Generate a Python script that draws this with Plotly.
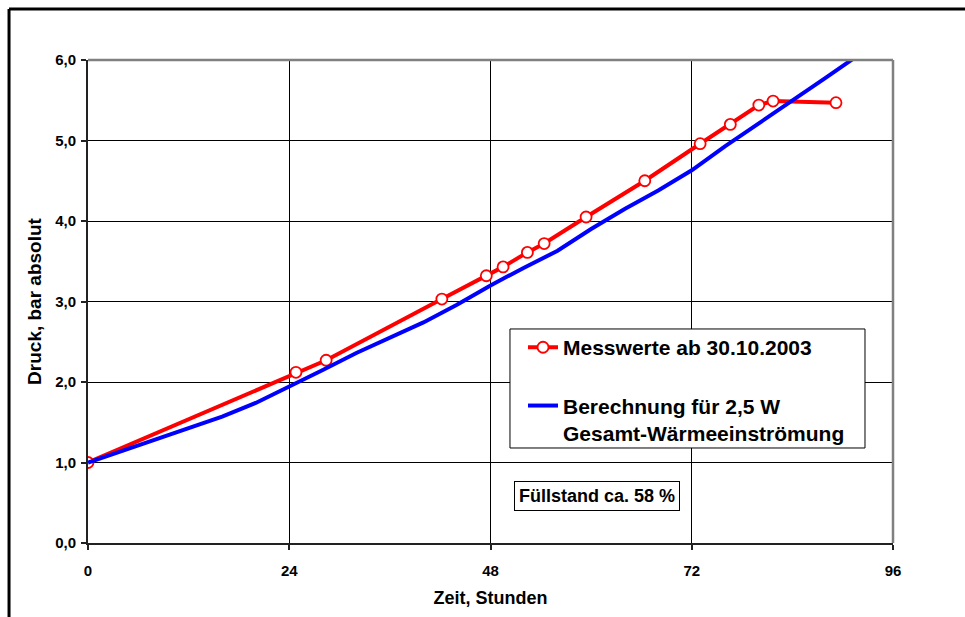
import plotly.graph_objects as go

# Measured values (Messwerte)
mess_t = [0, 24.8, 28.4, 42.2, 47.5, 49.5, 52.4, 54.4, 59.4, 66.4, 73.0, 76.6, 80.0, 81.7, 89.2]
mess_p = [1.00, 2.12, 2.27, 3.03, 3.32, 3.43, 3.61, 3.72, 4.05, 4.50, 4.96, 5.20, 5.44, 5.49, 5.47]

# Calculation for 2.5 W heat inflow
calc_t = [0, 4, 8, 12, 16, 20, 24, 28, 32, 36, 40, 44, 48, 52, 56, 60, 64, 68, 72, 76, 80, 84, 88, 92]
calc_p = [1.00, 1.14, 1.29, 1.42, 1.57, 1.74, 1.94, 2.15, 2.36, 2.55, 2.74, 2.96, 3.20, 3.42, 3.63,
          3.90, 4.15, 4.38, 4.63, 4.93, 5.21, 5.49, 5.78, 6.07]

x_ticks = [0, 24, 48, 72, 96]
y_ticks = [0, 1, 2, 3, 4, 5, 6]

FONT = "Arial, Liberation Sans, sans-serif"

fig = go.Figure()
fig.add_trace(go.Scatter(
    x=mess_t, y=mess_p, mode="lines+markers",
    name="<b>Messwerte ab 30.10.2003</b>",
    line=dict(color="#ff0000", width=4),
    marker=dict(symbol="circle", size=11, color="white", line=dict(color="#ff0000", width=1.8)),
    legendgroup="a",
))
fig.add_trace(go.Scatter(
    x=calc_t, y=calc_p, mode="lines",
    name="<b>Berechnung für 2,5 W<br>Gesamt-Wärmeeinströmung</b>",
    line=dict(color="#0000ff", width=4),
    legendgroup="b",
))

axis_common = dict(
    showgrid=True, gridcolor="#000000", gridwidth=1,
    showline=True, linecolor="#222222", linewidth=2,
    ticks="outside", ticklen=5, tickcolor="#222222", tickwidth=1.5,
    zeroline=False,
    tickfont=dict(family=FONT, size=15, color="black", weight="bold"),
)

fig.update_layout(
    width=965, height=617,
    margin=dict(l=88, r=72, t=60, b=74),
    paper_bgcolor="white", plot_bgcolor="white",
    separators=",.",
    font=dict(family=FONT, color="black"),
    xaxis=dict(
        range=[0, 96], tickvals=x_ticks, ticktext=[str(v) for v in x_ticks],
        ticklabelstandoff=8,
        title=dict(text="<b>Zeit, Stunden</b>", font=dict(family=FONT, size=18), standoff=13),
        **axis_common,
    ),
    yaxis=dict(
        range=[0, 6], tickvals=y_ticks, tickformat=".1f",
        ticklabelstandoff=2,
        title=dict(text="<b>Druck, bar absolut</b>", font=dict(family=FONT, size=19), standoff=8),
        **axis_common,
    ),
    showlegend=True,
    legend=dict(
        x=0.5404, y=0.447, xanchor="left", yanchor="top",
        bgcolor="rgba(0,0,0,0)", borderwidth=0,
        font=dict(family=FONT, size=21, color="black"),
        tracegroupgap=28, traceorder="grouped", valign="top",
        itemwidth=30,
    ),
    annotations=[dict(
        xref="paper", yref="paper", x=0.6323, y=0.0663,
        text="<b>Füllstand ca. 58 %</b>", showarrow=False,
        font=dict(family=FONT, size=18, color="black"),
        bordercolor="black", borderwidth=1, borderpad=4, bgcolor="white",
    )],
    shapes=[
        # gray plot frame (top and right)
        dict(type="line", xref="paper", yref="paper", x0=0, x1=1, y0=1, y1=1,
             line=dict(color="#808080", width=2.5)),
        dict(type="line", xref="paper", yref="paper", x0=1, x1=1, y0=0, y1=1,
             line=dict(color="#808080", width=2.5)),
        # legend box
        dict(type="rect", xref="paper", yref="paper", x0=0.5242, x1=0.9652, y0=0.1967, y1=0.4431,
             line=dict(color="black", width=1), fillcolor="white", layer="above"),
        # outer chart border (left and top visible)
        dict(type="line", xref="paper", yref="paper", x0=-0.0981, x1=-0.0981, y0=1.1056, y1=-0.2,
             line=dict(color="black", width=3)),
        dict(type="line", xref="paper", yref="paper", x0=-0.0981, x1=1.12, y0=1.1056, y1=1.1056,
             line=dict(color="black", width=3)),
    ],
)

fig.write_html(
    "out.html",
    config={"displayModeBar": False},
    post_script="document.body.style.margin='0';document.body.style.overflow='hidden';",
)
